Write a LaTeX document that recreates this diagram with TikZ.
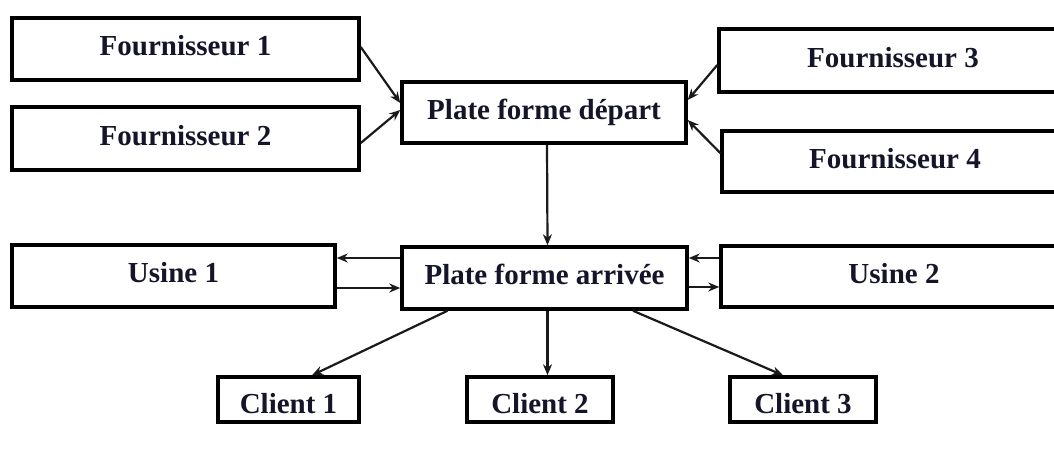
\documentclass[tikz,border=0pt]{standalone}
\usepackage{fontspec}
\setmainfont{Liberation Serif}
\usetikzlibrary{arrows.meta,calc}
\definecolor{inktext}{HTML}{15152A}
\definecolor{inkline}{HTML}{1A1A1A}
\begin{document}
\begin{tikzpicture}[x=1pt,y=-1pt,
  box/.style={draw=black,line width=3.5pt,fill=white,inner sep=0pt,
    text=inktext,font=\fontsize{29}{31}\selectfont\bfseries,
    text height=17.5pt,text depth=4.5pt},
  clientbox/.style={box,minimum height=45pt,text height=29pt,text depth=2pt},
  arr/.style={draw=inkline,line width=2.2pt,-{Stealth[length=11pt,width=9pt]}}]
\useasboundingbox (0,0) rectangle (1054,451);

% suppliers, hubs and plants
\node[box,minimum width=347pt,minimum height=62pt] (f1) at (185.5,49) {Fournisseur 1};
\node[box,minimum width=347pt,minimum height=63pt] (f2) at (185.5,138.5) {Fournisseur 2};
\node[box,minimum width=348pt,minimum height=63pt] (f3) at (893,60.5) {Fournisseur 3};
\node[box,minimum width=346pt,minimum height=61pt] (f4) at (895,161.5) {Fournisseur 4};
\node[box,minimum width=284pt,minimum height=61pt] (pfd) at (544,112.5) {Plate forme départ};
\node[box,minimum width=285pt,minimum height=62pt] (pfa) at (544.5,278) {Plate forme arrivée};
\node[box,minimum width=323pt,minimum height=62pt] (u1) at (173.5,276) {Usine 1};
\node[box,minimum width=346pt,minimum height=61pt] (u2) at (894,276.5) {Usine 2};

% clients
\node[clientbox,minimum width=141pt] (c1) at (288.5,399.5) {Client 1};
\node[clientbox,minimum width=146pt] (c2) at (540,399.5) {Client 2};
\node[clientbox,minimum width=146pt] (c3) at (803,399.5) {Client 3};

% supplies into the departure hub
\draw[arr] ([yshift=2pt]f1.east) -- ([yshift=9.5pt]pfd.west);
\draw[arr] ([yshift=-4.5pt]f2.east) -- ([yshift=2.5pt]pfd.west);
\draw[arr] ([yshift=-4.5pt]f3.west) -- ([yshift=12.5pt]pfd.east);
\draw[arr] ([yshift=8.5pt]f4.west) -- ([yshift=-7.5pt]pfd.east);

% departure hub to arrival hub
\draw[arr] ([xshift=3pt]pfd.south) -- ([xshift=3pt]pfa.north);

% exchanges with the plants
\draw[arr] ([yshift=20pt]pfa.west) -- ([yshift=20pt]pfa.west -| u1.east);
\draw[arr] ([yshift=-12pt]u1.east) -- ([yshift=-12pt]u1.east -| pfa.west);
\draw[arr] ([yshift=18.5pt]u2.west) -- ([yshift=18.5pt]u2.west -| pfa.east);
\draw[arr] ([yshift=-9pt]pfa.east) -- ([yshift=-9pt]pfa.east -| u2.west);

% deliveries to the clients
\draw[arr] ([xshift=-97pt]pfa.south) -- ([xshift=23.5pt]c1.north);
\draw[arr] ([xshift=3pt]pfa.south) -- ([xshift=3pt]pfa.south |- c2.north);
\draw[arr] ([xshift=88.5pt]pfa.south) -- ([xshift=-20pt]c3.north);
\end{tikzpicture}
\end{document}
